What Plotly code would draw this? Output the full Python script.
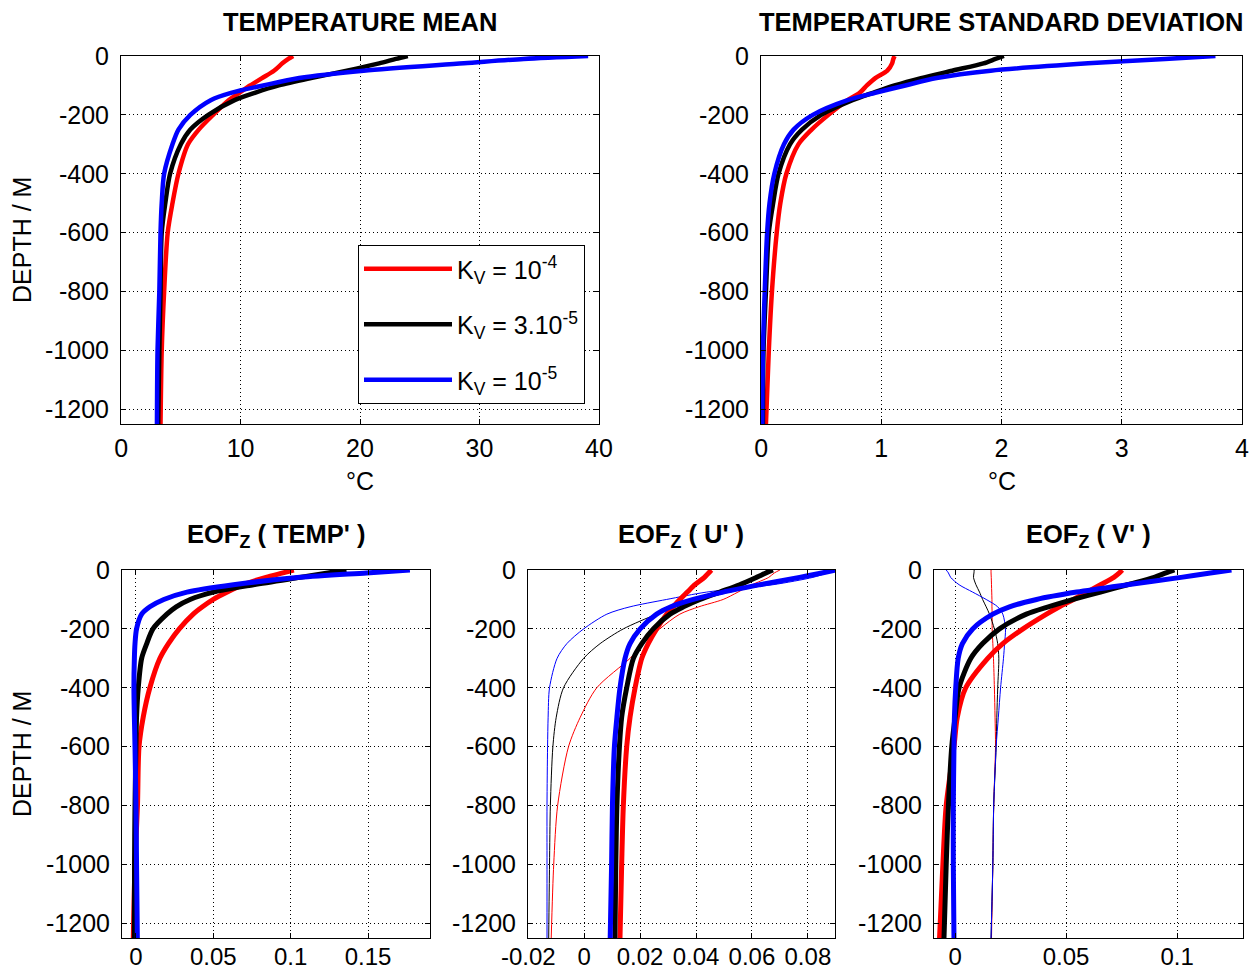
import plotly.graph_objects as go

# ---------------- data ----------------
depth = [0, -10, -25, -50, -75, -100, -125, -150, -200, -250, -300, -400, -500, -600, -800, -1000, -1250]

# Temperature mean (deg C)
tm_red = [14.4, 14.0, 13.5, 12.8, 11.8, 10.8, 9.9, 9.0, 7.7, 6.5, 5.6, 4.8, 4.3, 3.9, 3.6, 3.4, 3.3]
tm_black = [24.0, 23.0, 21.6, 18.9, 15.9, 13.2, 11.2, 9.5, 7.3, 5.8, 5.0, 4.1, 3.7, 3.4, 3.3, 3.2, 3.1]
tm_blue = [39.1, 33.7, 28.7, 20.3, 14.9, 11.9, 9.2, 7.5, 5.8, 4.8, 4.3, 3.6, 3.4, 3.3, 3.2, 3.05, 3.0]

# Temperature standard deviation (deg C)
ts_red = [1.11, 1.10, 1.09, 1.05, 0.95, 0.88, 0.82, 0.72, 0.56, 0.42, 0.31, 0.21, 0.16, 0.13, 0.09, 0.064, 0.04]
ts_black = [2.02, 1.95, 1.85, 1.59, 1.33, 1.11, 0.93, 0.76, 0.50, 0.34, 0.24, 0.145, 0.10, 0.064, 0.04, 0.02, 0.015]
ts_blue = [3.78, 3.36, 2.72, 1.91, 1.46, 1.20, 0.95, 0.72, 0.43, 0.27, 0.19, 0.11, 0.07, 0.05, 0.03, 0.015, 0.01]

# EOF_z(TEMP')
et_red = [0.102, 0.095, 0.084, 0.069, 0.059, 0.050, 0.043, 0.037, 0.028, 0.021, 0.0155, 0.009, 0.0047, 0.002, 0.001, -0.0006, -0.0017]
et_black = [0.136, 0.124, 0.106, 0.076, 0.050, 0.035, 0.026, 0.020, 0.011, 0.007, 0.0037, 0.0015, 0.0004, 0.0, -0.0006, -0.0009, -0.001]
et_blue = [0.177, 0.149, 0.106, 0.063, 0.033, 0.018, 0.009, 0.0037, 0.0004, -0.0006, -0.001, -0.0013, -0.001, -0.0006, 0.0, 0.0004, 0.0009]

# EOF_z(U') thick and thin curves
eu_red = [0.0455, 0.0445, 0.043, 0.0396, 0.0369, 0.0342, 0.0318, 0.0295, 0.0259, 0.0229, 0.0206, 0.0182, 0.0164, 0.0152, 0.014, 0.0134, 0.0128]
eu_black = [0.0675, 0.065, 0.0616, 0.0556, 0.0485, 0.0414, 0.0355, 0.0307, 0.0247, 0.0206, 0.0176, 0.0152, 0.0134, 0.0126, 0.0117, 0.0113, 0.011]
eu_blue = [0.0901, 0.085, 0.077, 0.0628, 0.0497, 0.039, 0.031, 0.0259, 0.020, 0.0164, 0.0146, 0.0128, 0.0117, 0.0108, 0.0101, 0.0098, 0.0093]
eu_red_thin = [0.070, 0.068, 0.066, 0.060, 0.055, 0.0497, 0.041, 0.0342, 0.027, 0.0212, 0.0164, 0.0045, -0.0014, -0.0056, -0.0095, -0.0109, -0.0118]
eu_black_thin = [0.0901, 0.085, 0.0782, 0.0652, 0.0521, 0.0414, 0.033, 0.0259, 0.014, 0.0057, -0.0002, -0.0074, -0.010, -0.0112, -0.0121, -0.0124, -0.0127]
eu_blue_thin = [0.0901, 0.087, 0.0818, 0.0675, 0.0438, 0.0295, 0.0164, 0.0081, -0.0002, -0.0062, -0.0097, -0.0124, -0.0129, -0.0131, -0.0133, -0.0133, -0.0133]

# EOF_z(V') thick and thin curves
ev_red = [0.0753, 0.074, 0.0715, 0.0655, 0.0594, 0.0533, 0.047, 0.0412, 0.0306, 0.0215, 0.0147, 0.0048, 0.001, -0.0005, -0.004, -0.0055, -0.007]
ev_black = [0.0988, 0.095, 0.0897, 0.0776, 0.0655, 0.0533, 0.042, 0.0321, 0.020, 0.0124, 0.0071, 0.0018, 0.0, -0.0015, -0.003, -0.004, -0.005]
ev_blue = [0.1245, 0.115, 0.1018, 0.0776, 0.0548, 0.0367, 0.0245, 0.017, 0.0079, 0.0033, 0.0014, 0.0003, -0.0003, -0.0005, -0.0008, -0.0008, -0.0005]
ev_red_thin = [0.0162, 0.0162, 0.0163, 0.0164, 0.0165, 0.0166, 0.0166, 0.0167, 0.0167, 0.017, 0.0173, 0.0177, 0.018, 0.0182, 0.0174, 0.017, 0.0164]
ev_black_thin = [0.0086, 0.0085, 0.0083, 0.0094, 0.011, 0.0124, 0.014, 0.0155, 0.0177, 0.0192, 0.0197, 0.0192, 0.0188, 0.0185, 0.0174, 0.017, 0.0162]
ev_blue_thin = [-0.004, -0.003, -0.002, 0.0018, 0.0079, 0.014, 0.0192, 0.0215, 0.0227, 0.0223, 0.0218, 0.0205, 0.0195, 0.0185, 0.0174, 0.017, 0.0162]

legend_names = ["K<sub>V</sub> = 10<sup>-4</sup>", "K<sub>V</sub> = 3.10<sup>-5</sup>", "K<sub>V</sub> = 10<sup>-5</sup>"]
titles = ["<b>TEMPERATURE MEAN</b>", "<b>TEMPERATURE STANDARD DEVIATION</b>",
          "<b>EOF<sub>Z</sub> ( TEMP' )</b>", "<b>EOF<sub>Z</sub> ( U' )</b>", "<b>EOF<sub>Z</sub> ( V' )</b>"]
depth_ticks = [0, -200, -400, -600, -800, -1000, -1200]
depth_labels = ["0", "-200", "-400", "-600", "-800", "-1000", "-1200"]
x_ticks = [
    ([0, 10, 20, 30, 40], ["0", "10", "20", "30", "40"]),
    ([0, 1, 2, 3, 4], ["0", "1", "2", "3", "4"]),
    ([0, 0.05, 0.1, 0.15], ["0", "0.05", "0.1", "0.15"]),
    ([-0.02, 0, 0.02, 0.04, 0.06, 0.08], ["-0.02", "0", "0.02", "0.04", "0.06", "0.08"]),
    ([0, 0.05, 0.1], ["0", "0.05", "0.1"]),
]
x_ranges = [[-0.01, 40.01], [-0.001, 4.001], [-0.009, 0.19], [-0.0201, 0.0897], [-0.0095, 0.1297]]

RED, BLACK, BLUE = "#ff0000", "#000000", "#0000ff"
W = 1249
H = 971
FONT = "Liberation Sans, Arial, Helvetica, sans-serif"

# plot boxes in pixels (left, right, top, bottom)
boxes = [(121, 599, 56, 424), (761, 1242, 56, 424),
         (122, 430, 570, 938), (528, 835, 570, 938), (934, 1243, 570, 938)]

fig = go.Figure()

def add(i, x, color, width, name=None, legend=False):
    ax = "" if i == 0 else str(i + 1)
    fig.add_trace(go.Scatter(
        x=x, y=depth, mode="lines",
        line=dict(color=color, width=width, shape="spline", smoothing=0.8),
        name=name if name else "", showlegend=legend,
        legendgroup=name if legend else None,
        xaxis="x" + ax, yaxis="y" + ax, hoverinfo="skip"))

TH = 4.5
add(0, tm_red, RED, TH, legend_names[0], True)
add(0, tm_black, BLACK, TH, legend_names[1], True)
add(0, tm_blue, BLUE, TH, legend_names[2], True)
add(1, ts_red, RED, TH)
add(1, ts_black, BLACK, TH)
add(1, ts_blue, BLUE, TH)
add(2, et_red, RED, 5)
add(2, et_black, BLACK, 5)
add(2, et_blue, BLUE, 5)
add(3, eu_red_thin, RED, 1)
add(3, eu_black_thin, BLACK, 1)
add(3, eu_blue_thin, BLUE, 1)
add(3, eu_red, RED, 5)
add(3, eu_black, BLACK, 5)
add(3, eu_blue, BLUE, 5)
add(4, ev_red_thin, RED, 1)
add(4, ev_black_thin, BLACK, 1)
add(4, ev_blue_thin, BLUE, 1)
add(4, ev_red, RED, 5)
add(4, ev_black, BLACK, 5)
add(4, ev_blue, BLUE, 5)

layout = dict(
    width=W, height=H, margin=dict(l=0, r=0, t=0, b=0, autoexpand=False),
    paper_bgcolor="white", plot_bgcolor="white",
    font=dict(family=FONT, size=25, color="black"),
    showlegend=True,
    legend=dict(x=358 / W, y=1 - 245 / H, xanchor="left", yanchor="top",
                bgcolor="white", bordercolor="black", borderwidth=1,
                font=dict(size=25, family=FONT), tracegroupgap=20,
                itemwidth=88),
)
annotations = []
for i, (l, r, t, b) in enumerate(boxes):
    ax = "" if i == 0 else str(i + 1)
    common = dict(showline=True, linecolor="black", linewidth=1, mirror="ticks",
                  ticks="inside", ticklen=5, tickcolor="black",
                  showgrid=True, gridcolor="black", griddash="1px,3px", gridwidth=1,
                  zeroline=False, automargin=False)
    xfs = 25 if i < 2 else 24
    layout["xaxis" + ax] = dict(domain=[l / W, r / W], anchor="y" + ax,
                                range=x_ranges[i], tickvals=x_ticks[i][0], ticktext=x_ticks[i][1],
                                ticklabelstandoff=2 if i < 2 else -3,
                                tickfont=dict(size=xfs, family=FONT), **common)
    layout["yaxis" + ax] = dict(domain=[1 - b / H, 1 - t / H], anchor="x" + ax,
                                range=[-1250, 0], tickvals=depth_ticks, ticktext=depth_labels,
                                ticklabelstandoff=6, tickfont=dict(size=25, family=FONT), **common)
    cx = (l + r) / 2 / W
    annotations.append(dict(text=titles[i], x=cx, y=1 - (t - 34) / H, xref="paper", yref="paper",
                            xanchor="center", yanchor="middle", showarrow=False,
                            font=dict(size=25.5, family=FONT)))
    if i < 2:
        annotations.append(dict(text="\u00b0C", x=cx, y=1 - 481 / H, xref="paper", yref="paper",
                                xanchor="center", yanchor="middle", showarrow=False,
                                font=dict(size=25, family=FONT)))
    if i in (0, 2):
        annotations.append(dict(text="DEPTH / M", x=22 / W, y=1 - (t + b) / 2 / H, xref="paper", yref="paper",
                                xanchor="center", yanchor="middle", showarrow=False, textangle=-90,
                                font=dict(size=25, family=FONT)))
layout["annotations"] = annotations
fig.update_layout(**layout)
fig.write_html("out.html")
